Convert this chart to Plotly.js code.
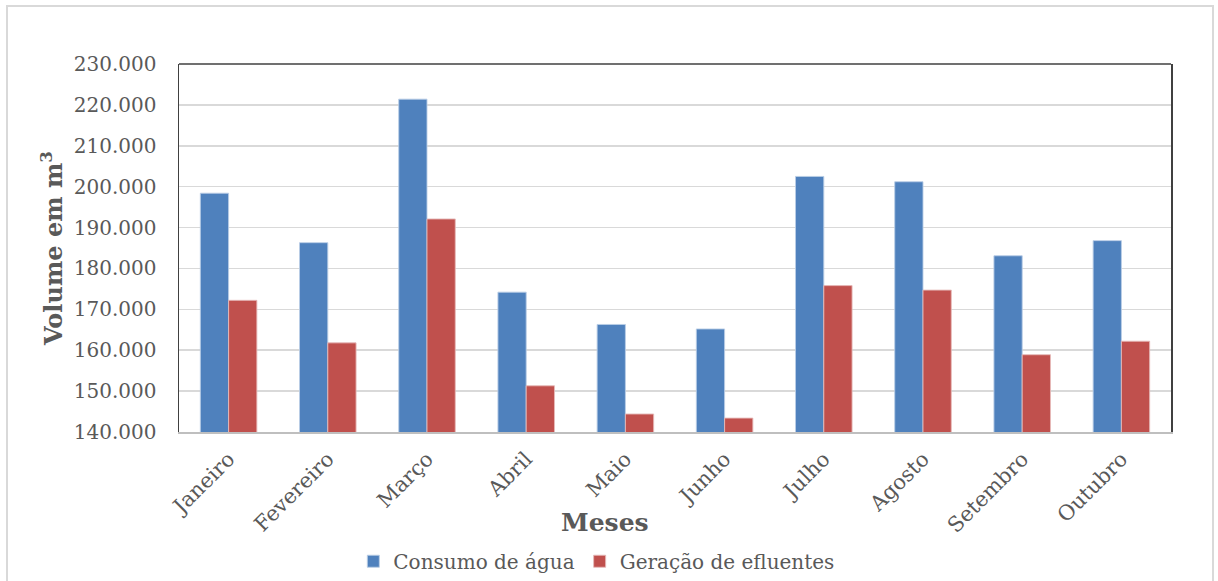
<!DOCTYPE html>
<html>
<head>
<meta charset="utf-8">
<script src="https://cdn.plot.ly/plotly-3.0.1.min.js"></script>
<style>
  html, body { margin: 0; padding: 0; background: #ffffff; overflow: hidden; }
  #frame {
    position: absolute; left: 6px; top: 5px; width: 1208px; height: 620px;
    border: 2px solid #d9d9d9; box-sizing: border-box;
  }
  #chart { position: absolute; left: 0; top: 0; width: 1218px; height: 581px; }
</style>
</head>
<body>
<div id="frame"></div>
<div id="chart"></div>
<script>
// Monthly volumes (m³)
const meses = ['Janeiro', 'Fevereiro', 'Março', 'Abril', 'Maio', 'Junho',
               'Julho', 'Agosto', 'Setembro', 'Outubro'];
const consumoAgua = [198400, 186300, 221400, 174200, 166300, 165200,
                     202500, 201200, 183100, 186800];
const geracaoEfluentes = [172200, 161800, 192100, 151300, 144400, 143400,
                          175800, 174700, 158900, 162200];
const yTicks = [140000, 150000, 160000, 170000, 180000, 190000,
                200000, 210000, 220000, 230000];

const serif = 'DejaVu Serif, Liberation Serif, serif';
const textColor = '#595959';

const traces = [
  {
    type: 'bar', name: 'Consumo de água', x: meses, y: consumoAgua,
    marker: { color: '#4F81BD', line: { color: 'rgba(185,205,229,0.9)', width: 1 } }
  },
  {
    type: 'bar', name: 'Geração de efluentes', x: meses, y: geracaoEfluentes,
    marker: { color: '#C0504D', line: { color: 'rgba(230,185,184,0.9)', width: 1 } }
  }
];

const layout = {
  width: 1218, height: 581,
  margin: { l: 179, r: 47, t: 64, b: 149, autoexpand: false },
  paper_bgcolor: 'rgba(0,0,0,0)',
  plot_bgcolor: '#ffffff',
  separators: ',.',
  barmode: 'group',
  bargap: 0.43,
  bargroupgap: 0,
  font: { family: serif, color: textColor, size: 20 },
  xaxis: {
    type: 'category',
    tickangle: -45,
    tickfont: { family: serif, size: 21, color: textColor },
    showgrid: false,
    showline: true, linecolor: '#bfbfbf', linewidth: 1.5,
    ticks: '', ticklabelstandoff: 5,
    automargin: false,
    fixedrange: true
  },
  yaxis: {
    range: [140000, 230000],
    tickvals: yTicks,
    tickformat: ',d',
    tickfont: { family: serif, size: 20, color: textColor },
    showgrid: true, gridcolor: '#d9d9d9', gridwidth: 1.5,
    showline: true, mirror: true, linecolor: '#404040', linewidth: 1.5,
    zeroline: false,
    ticks: '', ticklabelstandoff: 17,
    automargin: false,
    title: {
      text: '<b>Volume em m<sup>3</sup></b>',
      font: { family: serif, size: 24, color: textColor },
      standoff: 4
    },
    fixedrange: true
  },
  shapes: [
    { type: 'line', xref: 'paper', yref: 'paper', x0: 0, x1: 1, y0: 1, y1: 1,
      line: { color: '#404040', width: 1.5 } }
  ],
  annotations: [
    { text: '<b>Meses</b>', xref: 'paper', yref: 'paper', x: 0.4294, y: -0.245,
      xanchor: 'center', yanchor: 'middle', showarrow: false,
      font: { family: serif, size: 25, color: textColor } }
  ],
  legend: {
    orientation: 'h', xref: 'container', yref: 'container',
    x: 0.49, y: 0.034, xanchor: 'center', yanchor: 'middle',
    font: { family: serif, size: 20, color: textColor },
    bgcolor: 'rgba(0,0,0,0)', itemclick: false, itemdoubleclick: false
  },
  showlegend: true
};

Plotly.newPlot('chart', traces, layout, { displayModeBar: false, staticPlot: true });
</script>
</body>
</html>
